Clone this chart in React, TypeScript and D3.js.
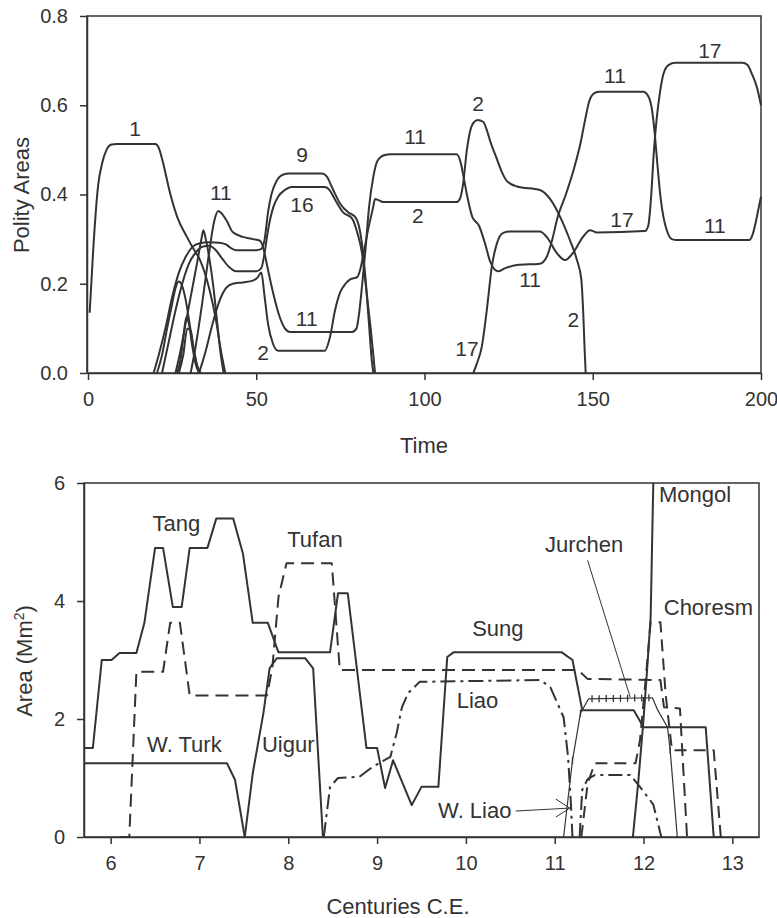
import React, { useEffect, useRef } from "react";
import * as d3 from "d3";

type Pt = [number, number];

const FONT = "'Liberation Sans', Arial, Helvetica, sans-serif";
const INK = "#333";

// ---- top panel: simulated polity areas ----
const topXTicks = [0, 50, 100, 150, 200];
const topYTicks = [0, 0.2, 0.4, 0.6, 0.8];

const polity1: Pt[] = [[0.5, 0.135], [1.5, 0.27], [3, 0.42], [4.2, 0.47], [5.5, 0.5], [7, 0.512], [8.5, 0.513], [20, 0.513], [21, 0.505], [22, 0.48], [24.5, 0.4], [26.5, 0.35], [29.4, 0.305], [31.2, 0.28], [33.3, 0.253], [36, 0.19], [38, 0.12], [39.5, 0.05], [40.8, 0]];
const polity11: Pt[] = [[30.5, 0], [32, 0.06], [34, 0.16], [36, 0.27], [37.5, 0.34], [38.7, 0.363], [40, 0.355], [41.3, 0.34], [43, 0.316], [46, 0.305], [49, 0.3], [51, 0.297], [52, 0.283], [53.3, 0.238], [55, 0.18], [57, 0.125], [58.5, 0.1], [60, 0.092], [78.5, 0.092], [79.8, 0.1], [80.5, 0.13], [81.5, 0.2], [82.5, 0.28], [83.5, 0.37], [84.8, 0.44], [86, 0.475], [88, 0.488], [90, 0.49], [109.5, 0.49], [110.8, 0.47], [111.6, 0.44], [112.6, 0.4], [114.2, 0.35], [116.2, 0.33], [118, 0.29], [119.5, 0.25], [121.8, 0.228], [124, 0.235], [127.5, 0.242], [134.3, 0.245], [136.3, 0.26], [138, 0.3], [139.6, 0.35], [142, 0.4], [144.5, 0.46], [146.5, 0.52], [147.8, 0.57], [149, 0.61], [150.5, 0.627], [152, 0.63], [165, 0.63], [166.5, 0.62], [167.6, 0.59], [168.5, 0.53], [169.3, 0.46], [170.2, 0.39], [171, 0.35], [172, 0.32], [173.5, 0.3], [175, 0.298], [196.5, 0.298], [197.5, 0.31], [198.5, 0.34], [199.3, 0.37], [200, 0.395]];
const polity9: Pt[] = [[19.5, 0], [21, 0.04], [23, 0.1], [25, 0.17], [27, 0.225], [29, 0.26], [31, 0.282], [33, 0.29], [36, 0.293], [39, 0.292], [41, 0.288], [42.5, 0.28], [44, 0.275], [50, 0.275], [51.5, 0.278], [52.5, 0.3], [53.5, 0.36], [54.5, 0.4], [56, 0.43], [57.5, 0.443], [59.5, 0.447], [69.6, 0.447], [71, 0.44], [72.4, 0.418], [74.9, 0.38], [77.3, 0.36], [79.4, 0.35], [80.5, 0.33], [81.5, 0.285], [82.6, 0.2], [83.6, 0.1], [84.3, 0.03], [84.8, 0]];
const polity16: Pt[] = [[22, 0], [24, 0.07], [26, 0.14], [28, 0.2], [30, 0.245], [32, 0.27], [34, 0.283], [36, 0.285], [38, 0.275], [40, 0.255], [42, 0.237], [44, 0.228], [50, 0.228], [51.5, 0.235], [52.5, 0.27], [53.5, 0.32], [55, 0.37], [56.5, 0.395], [58.5, 0.41], [60.5, 0.417], [70.4, 0.417], [71.8, 0.41], [73.3, 0.39], [75.8, 0.36], [78.4, 0.347], [80.2, 0.31], [81.4, 0.27], [82.5, 0.2], [84, 0.1], [84.8, 0.04], [85.3, 0]];
const polity2: Pt[] = [[33, 0], [35, 0.05], [37, 0.11], [39, 0.16], [41, 0.19], [43, 0.2], [46, 0.203], [49, 0.207], [50.5, 0.215], [51.5, 0.225], [52.5, 0.17], [53.5, 0.11], [55, 0.065], [56.5, 0.05], [70.4, 0.05], [71.9, 0.08], [73.4, 0.14], [74.9, 0.18], [76.5, 0.2], [77.9, 0.21], [80, 0.215], [81, 0.235], [81.7, 0.26], [83.2, 0.32], [84.7, 0.37], [85.3, 0.39], [86.2, 0.388], [87.7, 0.383], [109.5, 0.383], [110.5, 0.39], [111.4, 0.42], [112.6, 0.5], [113.5, 0.54], [114.7, 0.562], [115.8, 0.567], [117.4, 0.563], [118.5, 0.545], [119.5, 0.52], [121.5, 0.48], [123, 0.45], [124.5, 0.43], [127.5, 0.418], [134.3, 0.41], [137.3, 0.39], [140.3, 0.35], [143.2, 0.298], [145.3, 0.253], [146.6, 0.21], [147.2, 0.13], [147.6, 0.05], [147.9, 0]];
const polity17: Pt[] = [[114.5, 0], [115.5, 0.02], [117, 0.058], [118.5, 0.14], [120, 0.238], [121.5, 0.29], [123.4, 0.314], [125.4, 0.317], [134.3, 0.317], [136.3, 0.305], [139.4, 0.268], [141.8, 0.253], [144.2, 0.27], [147.1, 0.305], [149.2, 0.32], [151.3, 0.315], [165.5, 0.318], [166.5, 0.33], [167.3, 0.39], [168.2, 0.5], [169, 0.57], [170, 0.63], [171, 0.67], [172.5, 0.69], [174.5, 0.695], [194.5, 0.695], [196, 0.69], [197.3, 0.67], [198.8, 0.64], [200, 0.6]];
// short-lived polities in the early tangle
const polityA: Pt[] = [[26, 0], [27.5, 0.05], [29, 0.11], [30.5, 0.17], [32.5, 0.25], [33.7, 0.3], [34.3, 0.32], [35, 0.3], [36.2, 0.25], [37.3, 0.19], [38.3, 0.12], [39.3, 0.05], [40.3, 0]];
const polityB: Pt[] = [[20.5, 0], [22, 0.04], [23.5, 0.1], [25, 0.155], [26, 0.19], [27, 0.205], [28, 0.195], [29, 0.165], [30, 0.12], [31, 0.07], [32, 0.03], [33, 0]];
const polityC: Pt[] = [[26.5, 0], [27.5, 0.03], [28.5, 0.09], [29.2, 0.125], [30, 0.11], [31, 0.06], [32, 0.02], [33, 0]];
const polityD: Pt[] = [[27, 0], [28.3, 0.04], [29.5, 0.1], [30.5, 0.095], [31.5, 0.05], [32.5, 0.015], [33.5, 0]];

const topSeries = [polity1, polity11, polity9, polity16, polity2, polity17, polityA, polityB, polityC, polityD];

const topLabels = [
  { text: "1", t: 14, v: 0.549 },
  { text: "11", t: 39.5, v: 0.404 },
  { text: "9", t: 63.6, v: 0.489 },
  { text: "16", t: 63.6, v: 0.377 },
  { text: "11", t: 65, v: 0.123 },
  { text: "2", t: 52, v: 0.045 },
  { text: "11", t: 97.2, v: 0.529 },
  { text: "2", t: 98, v: 0.352 },
  { text: "2", t: 115.9, v: 0.603 },
  { text: "17", t: 112.6, v: 0.054 },
  { text: "11", t: 131.4, v: 0.21 },
  { text: "2", t: 144.2, v: 0.121 },
  { text: "11", t: 156.6, v: 0.666 },
  { text: "17", t: 158.7, v: 0.343 },
  { text: "17", t: 184.8, v: 0.722 },
  { text: "11", t: 186.3, v: 0.33 },
];

// ---- bottom panel: historical areas ----
const centuryTicks = [6, 7, 8, 9, 10, 11, 12, 13];
const areaTicks = [0, 2, 4, 6];

const tangSung: Pt[] = [[5.7, 1.51], [5.8, 1.51], [5.9, 3.0], [6.01, 3.0], [6.1, 3.12], [6.29, 3.12], [6.38, 3.63], [6.5, 4.9], [6.59, 4.9], [6.7, 3.9], [6.8, 3.9], [6.89, 4.9], [7.09, 4.9], [7.19, 5.4], [7.38, 5.4], [7.49, 4.8], [7.6, 3.63], [7.77, 3.63], [7.89, 3.13], [8.47, 3.13], [8.56, 4.13], [8.67, 4.13], [8.88, 1.51], [9.0, 1.51], [9.09, 0.83], [9.18, 1.3], [9.39, 0.54], [9.5, 0.85], [9.69, 0.85], [9.79, 3.05], [9.86, 3.13], [11.08, 3.13], [11.2, 3.0], [11.31, 2.15], [11.89, 2.15], [12.0, 1.86], [12.7, 1.86], [12.79, 0], [12.89, 0]];
const wTurk: Pt[] = [[5.7, 1.25], [7.31, 1.25], [7.4, 0.97], [7.51, 0]];
const uigur: Pt[] = [[7.51, 0], [7.6, 1.08], [7.72, 2.1], [7.79, 2.86], [7.87, 3.03], [8.19, 3.03], [8.28, 2.86], [8.39, 0]];
const tufan: Pt[] = [[6.1, 0], [6.21, 0], [6.29, 2.8], [6.59, 2.8], [6.67, 3.63], [6.78, 3.63], [6.89, 2.4], [7.76, 2.4], [7.82, 2.86], [7.89, 4.07], [7.98, 4.64], [8.49, 4.64], [8.58, 2.83], [11.26, 2.83], [11.37, 2.68], [12.19, 2.66], [12.23, 2.2], [12.41, 2.18], [12.49, 0]];
const liao: Pt[] = [[8.4, 0], [8.47, 0.85], [8.56, 1.0], [8.8, 1.02], [8.95, 1.19], [9.15, 1.36], [9.22, 1.76], [9.28, 2.2], [9.35, 2.44], [9.48, 2.63], [10.84, 2.66], [10.95, 2.54], [11.1, 2.03], [11.15, 1.36], [11.18, 0.63], [11.2, 0]];
const wLiao: Pt[] = [[11.28, 0], [11.31, 0.8], [11.37, 0.98], [11.45, 1.05], [11.85, 1.05], [11.96, 0.85], [12.11, 0.55], [12.2, 0]];
const choresm: Pt[] = [[11.3, 0], [11.37, 0.9], [11.45, 1.25], [11.91, 1.25], [11.96, 1.64], [12.02, 2.6], [12.08, 3.64], [12.19, 3.64], [12.25, 2.4], [12.32, 1.47], [12.79, 1.47], [12.87, 0], [12.93, 0]];
const jurchen: Pt[] = [[11.1, 0], [11.2, 1.3], [11.29, 2.1], [11.38, 2.34], [12.1, 2.36], [12.16, 2.15], [12.27, 1.86], [12.3, 1.47], [12.38, 0]];
const jurchenMarks = [11.2, 11.29, 11.42, 11.5, 11.58, 11.66, 11.74, 11.82, 11.9, 11.98, 12.06, 12.3];
const mongol: Pt[] = [[11.88, 0], [11.94, 0.92], [12.0, 2.0], [12.04, 2.83], [12.08, 3.73], [12.11, 6.0]];

const bottomSeries = [
  { pts: tangSung, dash: "none", w: 2 },
  { pts: wTurk, dash: "none", w: 2 },
  { pts: uigur, dash: "none", w: 2 },
  { pts: tufan, dash: "13,7", w: 2 },
  { pts: liao, dash: "15,5,3,5", w: 2 },
  { pts: wLiao, dash: "14,5,3,5", w: 2 },
  { pts: choresm, dash: "12,7", w: 2 },
  { pts: jurchen, dash: "none", w: 1.2 },
  { pts: mongol, dash: "none", w: 2 },
];

const bottomLabels = [
  { text: "Tang", c: 6.74, a: 5.32 },
  { text: "Tufan", c: 8.3, a: 5.05 },
  { text: "W. Turk", c: 6.83, a: 1.58 },
  { text: "Uigur", c: 8.0, a: 1.58 },
  { text: "Sung", c: 10.36, a: 3.54 },
  { text: "Liao", c: 10.13, a: 2.32 },
  { text: "W. Liao", c: 10.1, a: 0.46 },
  { text: "Jurchen", c: 11.33, a: 4.97 },
  { text: "Mongol", c: 12.58, a: 5.81 },
  { text: "Choresm", c: 12.73, a: 3.9 },
];

// pointer lines: [from, to] in data units
const wLiaoArrow: Pt[] = [[10.56, 0.44], [11.17, 0.49]];
const jurchenArrow: Pt[] = [[11.37, 4.69], [11.85, 2.37]];

const topX = d3.scaleLinear().domain([0, 200]).range([88, 761]);
const topY = d3.scaleLinear().domain([0, 0.8]).range([373, 16]);
const botX = d3.scaleLinear().domain([5.7, 13.3]).range([84, 759]);
const botY = d3.scaleLinear().domain([0, 6]).range([837, 483]);

function interp(pts: Pt[], c: number) {
  for (let i = 1; i < pts.length; i++) {
    if (c <= pts[i][0]) {
      const [x0, y0] = pts[i - 1];
      const [x1, y1] = pts[i];
      return y0 + ((c - x0) / (x1 - x0)) * (y1 - y0);
    }
  }
  return pts[pts.length - 1][1];
}

function styleAxis(g: any) {
  g.attr("font-family", FONT).attr("font-size", 20);
  g.selectAll("path, line").attr("stroke", INK).attr("stroke-width", 1.5);
  g.selectAll("text").attr("fill", INK);
}

export default function App() {
  const txRef = useRef<SVGGElement>(null);
  const tyRef = useRef<SVGGElement>(null);
  const bxRef = useRef<SVGGElement>(null);
  const byRef = useRef<SVGGElement>(null);

  useEffect(() => {
    d3.select(txRef.current)
      .call(d3.axisBottom(topX).tickValues(topXTicks).tickSize(7).tickSizeOuter(0).tickPadding(12) as any)
      .call(styleAxis);
    d3.select(tyRef.current)
      .call(d3.axisLeft(topY).tickValues(topYTicks).tickFormat(d3.format(".1f") as any).tickSize(7).tickSizeOuter(0).tickPadding(12) as any)
      .call(styleAxis);
    d3.select(bxRef.current)
      .call(d3.axisBottom(botX).tickValues(centuryTicks).tickFormat(d3.format("d") as any).tickSize(7).tickSizeOuter(0).tickPadding(12) as any)
      .call(styleAxis);
    d3.select(byRef.current)
      .call(d3.axisLeft(botY).tickValues(areaTicks).tickFormat(d3.format("d") as any).tickSize(7).tickSizeOuter(0).tickPadding(12) as any)
      .call(styleAxis);
  }, []);

  const topLine = d3
    .line<Pt>()
    .x((d) => topX(d[0]))
    .y((d) => topY(d[1]))
    .curve(d3.curveMonotoneX);
  const botLine = d3
    .line<Pt>()
    .x((d) => botX(d[0]))
    .y((d) => botY(d[1]));

  const arrowTip = [botX(wLiaoArrow[1][0]), botY(wLiaoArrow[1][1])];

  return (
    <svg width={777} height={918} style={{ position: "absolute", left: 0, top: 0, background: "#fff" }} fontFamily={FONT}>
      {/* top panel */}
      <rect x={87} y={16} width={674} height={357} fill="none" stroke={INK} strokeWidth={1.5} />
      <g ref={tyRef} transform="translate(87,0)" />
      <g ref={txRef} transform="translate(0,373)" />
      {topSeries.map((s, i) => (
        <path key={i} d={topLine(s) || ""} fill="none" stroke={INK} strokeWidth={2} strokeLinejoin="round" />
      ))}
      {topLabels.map((l, i) => (
        <text key={i} x={topX(l.t)} y={topY(l.v)} dy="0.36em" textAnchor="middle" fontSize={21} fill={INK}>
          {l.text}
        </text>
      ))}
      <text x={424} y={453} textAnchor="middle" fontSize={22} fill={INK}>
        Time
      </text>
      <text transform="translate(29,195) rotate(-90)" textAnchor="middle" fontSize={22} fill={INK}>
        Polity Areas
      </text>

      {/* bottom panel */}
      <rect x={84} y={483} width={675} height={354} fill="none" stroke={INK} strokeWidth={1.5} />
      <g ref={byRef} transform="translate(84,0)" />
      <g ref={bxRef} transform="translate(0,837)" />
      {bottomSeries.map((s, i) => (
        <path
          key={i}
          d={botLine(s.pts) || ""}
          fill="none"
          stroke={INK}
          strokeWidth={s.w}
          strokeDasharray={s.dash}
          strokeLinejoin="round"
        />
      ))}
      {jurchenMarks.map((c, i) => {
        const x = botX(c);
        const y = botY(interp(jurchen, c));
        return <line key={i} x1={x} x2={x} y1={y - 3.5} y2={y + 3.5} stroke={INK} strokeWidth={1.3} />;
      })}
      <line
        x1={botX(wLiaoArrow[0][0])}
        y1={botY(wLiaoArrow[0][1])}
        x2={arrowTip[0]}
        y2={arrowTip[1]}
        stroke={INK}
        strokeWidth={1}
      />
      <path
        d={`M${arrowTip[0] - 14},${arrowTip[1] - 9} L${arrowTip[0]},${arrowTip[1]} L${arrowTip[0] - 14},${arrowTip[1] + 9}`}
        fill="none"
        stroke={INK}
        strokeWidth={1}
      />
      <line
        x1={botX(jurchenArrow[0][0])}
        y1={botY(jurchenArrow[0][1])}
        x2={botX(jurchenArrow[1][0])}
        y2={botY(jurchenArrow[1][1])}
        stroke={INK}
        strokeWidth={1}
      />
      {bottomLabels.map((l, i) => (
        <text key={i} x={botX(l.c)} y={botY(l.a)} dy="0.36em" textAnchor="middle" fontSize={22} fill={INK}>
          {l.text}
        </text>
      ))}
      <text x={398} y={914} textAnchor="middle" fontSize={22} fill={INK}>
        Centuries C.E.
      </text>
      <text transform="translate(32,661) rotate(-90)" textAnchor="middle" fontSize={22} fill={INK}>
        Area (Mm
        <tspan dy={-8} fontSize={14}>
          2
        </tspan>
        <tspan dy={8}>)</tspan>
      </text>
    </svg>
  );
}
